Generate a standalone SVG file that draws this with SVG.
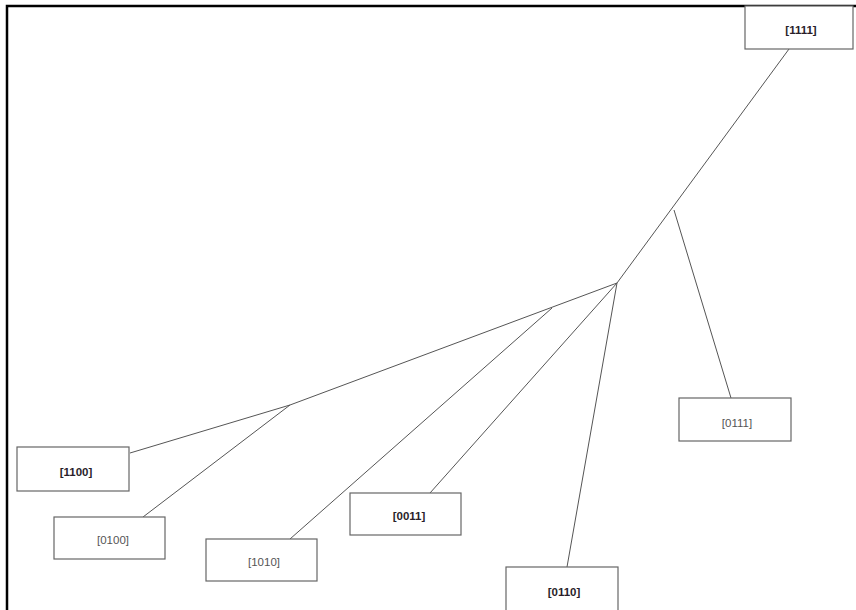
<svg xmlns="http://www.w3.org/2000/svg" width="856" height="610" viewBox="0 0 856 610">
<style>
.box{fill:#fff;stroke:#666;stroke-width:1.2}
.lbl{font-family:"Liberation Sans",Arial,sans-serif;font-size:11.5px;text-anchor:middle;dominant-baseline:central}
.b{font-weight:bold;fill:#2a1e2a}
.r{fill:#555}
.edge{stroke:#555;stroke-width:1;fill:none}
</style>
<rect width="856" height="610" fill="#fff"/>
<path d="M7 610 V6 H856" fill="none" stroke="#000" stroke-width="2.5"/>
<g id="connectors">
<line class="edge" x1="789" y1="49" x2="617" y2="283"/>
<line class="edge" x1="674" y1="210" x2="731" y2="398"/>
<line class="edge" x1="617" y1="283" x2="290" y2="405"/>
<line class="edge" x1="290" y1="405" x2="130" y2="453"/>
<line class="edge" x1="290" y1="405" x2="143" y2="517"/>
<line class="edge" x1="552" y1="308" x2="290" y2="539"/>
<line class="edge" x1="617" y1="283" x2="430" y2="493"/>
<line class="edge" x1="617" y1="283" x2="567" y2="567"/>
</g>
<g id="n1111"><rect class="box" x="745" y="6" width="108" height="43"/><text class="lbl b" x="801" y="30">[1111]</text></g>
<g id="n1100"><rect class="box" x="17" y="447" width="112" height="44"/><text class="lbl b" x="76" y="472">[1100]</text></g>
<g id="n0100"><rect class="box" x="54" y="517" width="111" height="42"/><text class="lbl r" x="113" y="540">[0100]</text></g>
<g id="n1010"><rect class="box" x="206" y="539" width="111" height="42"/><text class="lbl r" x="264" y="562">[1010]</text></g>
<g id="n0011"><rect class="box" x="350" y="493" width="111" height="42"/><text class="lbl b" x="409" y="516">[0011]</text></g>
<g id="n0110"><rect class="box" x="506" y="567" width="112" height="45"/><text class="lbl b" x="564" y="592">[0110]</text></g>
<g id="n0111"><rect class="box" x="679" y="398" width="112" height="43"/><text class="lbl r" x="737" y="423">[0111]</text></g>
</svg>
